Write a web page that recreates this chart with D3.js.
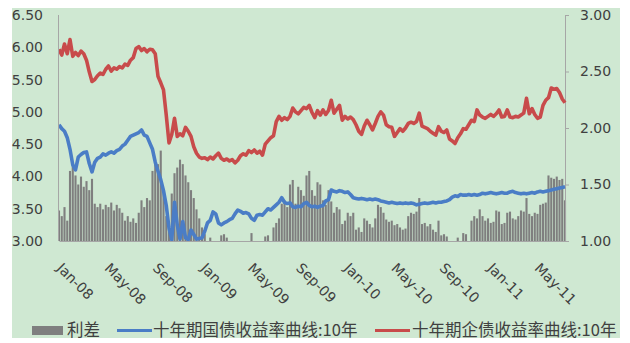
<!DOCTYPE html>
<html>
<head>
<meta charset="utf-8">
<script src="https://cdn.jsdelivr.net/npm/d3@7"></script>
<style>
  html, body { margin: 0; padding: 0; background: #ffffff; }
  svg { display: block; }
</style>
</head>
<body>
<svg id="chart" width="630" height="343"></svg>
<script>
// Weekly observations starting 2008-01-02
const firstWeek = "2008-01-02";

// 十年期企债收益率 (left axis, %)
const corpYield = [
  5.97,5.88,6.05,5.90,6.12,5.86,5.92,5.87,5.94,5.90,5.80,5.62,5.47,5.50,5.56,5.60,5.58,5.66,5.71,5.63,
  5.68,5.66,5.70,5.68,5.74,5.72,5.80,5.84,5.98,6.01,5.95,5.98,5.93,5.97,5.96,5.90,5.55,5.45,5.34,4.95,
  4.52,4.65,4.90,4.62,4.66,4.63,4.76,4.70,4.62,4.46,4.36,4.30,4.28,4.29,4.26,4.30,4.27,4.32,4.36,4.28,
  4.25,4.27,4.24,4.26,4.21,4.25,4.32,4.35,4.33,4.40,4.37,4.41,4.36,4.39,4.33,4.50,4.55,4.60,4.63,4.85,
  4.93,4.87,4.91,4.88,4.93,5.06,5.00,4.97,5.02,5.07,5.05,5.10,4.99,4.91,5.02,4.95,5.03,4.96,5.02,5.18,
  4.98,5.04,5.10,4.87,4.93,4.89,4.92,4.88,4.80,4.70,4.65,4.78,4.87,4.80,4.72,4.82,4.93,5.00,4.95,4.80,
  4.77,4.76,4.62,4.68,4.74,4.70,4.75,4.82,4.84,4.82,4.85,4.98,4.78,4.76,4.74,4.70,4.67,4.64,4.77,4.70,
  4.68,4.72,4.58,4.55,4.51,4.60,4.66,4.74,4.73,4.80,4.87,4.85,5.03,4.95,4.92,4.90,4.93,4.96,4.93,4.97,
  5.03,4.92,4.93,5.03,4.92,4.91,4.93,4.92,4.95,4.98,5.21,4.97,5.05,4.96,4.90,4.92,5.10,5.18,5.22,5.37,
  5.35,5.36,5.30,5.20,5.14
];

// 十年期国债收益率 (left axis, %)
const govYield = [
  4.80,4.74,4.70,4.60,4.42,4.18,4.10,4.30,4.34,4.37,4.38,4.20,4.07,4.22,4.28,4.30,4.35,4.33,4.36,4.38,
  4.36,4.40,4.42,4.47,4.50,4.56,4.62,4.64,4.66,4.68,4.72,4.64,4.62,4.52,4.42,4.22,4.08,3.95,3.78,3.55,
  3.20,3.02,3.60,3.25,3.03,3.30,3.05,3.02,3.17,3.10,3.03,3.04,3.05,3.15,3.28,3.32,3.45,3.42,3.28,3.25,
  3.28,3.30,3.33,3.35,3.42,3.48,3.46,3.43,3.44,3.42,3.35,3.32,3.40,3.41,3.40,3.45,3.50,3.48,3.52,3.56,
  3.60,3.67,3.60,3.58,3.59,3.53,3.52,3.54,3.53,3.58,3.60,3.55,3.53,3.54,3.52,3.54,3.55,3.62,3.64,3.79,
  3.77,3.76,3.78,3.77,3.75,3.76,3.72,3.67,3.66,3.65,3.66,3.65,3.64,3.65,3.64,3.65,3.64,3.62,3.61,3.60,
  3.59,3.60,3.59,3.58,3.59,3.58,3.59,3.58,3.59,3.58,3.56,3.57,3.58,3.59,3.58,3.59,3.60,3.59,3.60,3.60,
  3.61,3.62,3.64,3.68,3.70,3.69,3.72,3.71,3.71,3.72,3.71,3.72,3.71,3.72,3.74,3.73,3.74,3.75,3.74,3.73,
  3.74,3.75,3.74,3.74,3.76,3.77,3.75,3.74,3.73,3.74,3.73,3.74,3.75,3.74,3.76,3.77,3.76,3.77,3.78,3.79,
  3.80,3.81,3.82,3.83,3.84
];

// 利差 (right axis, %)
const spread = [
  1.27,1.22,1.30,1.18,1.62,1.66,1.58,1.50,1.57,1.48,1.53,1.45,1.55,1.33,1.30,1.33,1.28,1.32,1.30,1.34,
  1.27,1.32,1.29,1.25,1.18,1.22,1.17,1.20,1.16,1.25,1.36,1.30,1.38,1.36,1.62,1.70,1.68,1.80,1.45,1.22,
  1.15,1.42,1.60,1.65,1.72,1.68,1.58,1.52,1.45,1.38,1.28,1.20,1.12,1.06,1.00,1.03,1.00,1.00,1.00,1.05,
  1.06,1.03,1.00,1.00,1.00,1.00,1.00,1.00,1.00,1.00,1.07,1.00,1.00,1.00,1.00,1.04,1.05,1.00,1.12,1.16,
  1.20,1.33,1.36,1.30,1.50,1.54,1.33,1.48,1.45,1.40,1.58,1.62,1.45,1.40,1.52,1.50,1.36,1.32,1.45,1.35,
  1.25,1.30,1.28,1.15,1.18,1.25,1.22,1.25,1.10,1.12,1.08,1.20,1.18,1.15,1.12,1.20,1.32,1.30,1.25,1.19,
  1.17,1.18,1.14,1.15,1.12,1.10,1.11,1.22,1.25,1.24,1.26,1.38,1.15,1.16,1.13,1.15,1.10,1.08,1.18,1.05,
  1.06,1.04,1.00,1.00,1.00,1.03,1.00,1.07,1.06,1.00,1.18,1.22,1.20,1.28,1.22,1.18,1.20,1.16,1.17,1.27,
  1.26,1.15,1.16,1.25,1.26,1.20,1.19,1.22,1.27,1.26,1.38,1.24,1.22,1.25,1.24,1.32,1.33,1.34,1.58,1.56,
  1.55,1.57,1.54,1.55,1.36
];

const leftTicks = [3.0, 3.5, 4.0, 4.5, 5.0, 5.5, 6.0, 6.5];
const rightTicks = [1.0, 1.5, 2.0, 2.5, 3.0];
const monthLabels = ["Jan-08","May-08","Sep-08","Jan-09","May-09","Sep-09","Jan-10","May-10","Sep-10","Jan-11","May-11"];
const legendNames = ["利差", "十年期国债收益率曲线:10年", "十年期企债收益率曲线:10年"];

const colors = { spread: "#7f7f7f", gov: "#4a7dc6", corp: "#c84b4b", text: "#404040", axis: "#a6a6a6", bg: "#cfe8d2" };

const start = d3.timeParse("%Y-%m-%d")(firstWeek);
const dates = spread.map((_, i) => d3.timeDay.offset(start, 7 * i));
const tickDates = monthLabels.map(d3.timeParse("%b-%y"));

const svg = d3.select("#chart");
const W = 630, H = 343;
const panel = { x0: 12, y0: 8, x1: 620, y1: 338 };
const plot = { left: 59, right: 565, top: 15, bottom: 241 };

svg.append("rect").attr("width", W).attr("height", H).attr("fill", "#ffffff");
svg.append("rect")
  .attr("x", panel.x0).attr("y", panel.y0)
  .attr("width", panel.x1 - panel.x0).attr("height", panel.y1 - panel.y0)
  .attr("fill", colors.bg);

const defs = svg.append("defs");
defs.append("clipPath").attr("id", "plotClip").append("rect")
  .attr("x", plot.left).attr("y", plot.top - 4)
  .attr("width", plot.right - plot.left + 2).attr("height", plot.bottom - plot.top + 4);

const x = d3.scaleTime().domain(d3.extent(dates)).range([plot.left, plot.right]);
const yL = d3.scaleLinear().domain([3, 6.5]).range([plot.bottom, plot.top]);
const yR = d3.scaleLinear().domain([1, 3]).range([plot.bottom, plot.top]);

const font = "'DejaVu Sans', Verdana, sans-serif";

// spread columns
const barW = 2.1;
svg.append("g").attr("clip-path", "url(#plotClip)")
  .selectAll("rect").data(spread).join("rect")
  .attr("x", (d, i) => x(dates[i]) - barW / 2)
  .attr("y", d => yR(d))
  .attr("width", barW)
  .attr("height", d => yR(1) - yR(d))
  .attr("fill", colors.spread);

// axes
const axisL = svg.append("g").attr("transform", `translate(${plot.left},0)`)
  .call(d3.axisLeft(yL).tickValues(leftTicks).tickFormat(d3.format(".2f")).tickSize(0).tickPadding(16));
const axisR = svg.append("g").attr("transform", `translate(${plot.right},0)`)
  .call(d3.axisRight(yR).tickValues(rightTicks).tickFormat(d3.format(".2f")).tickSize(4).tickPadding(11));
const axisB = svg.append("g").attr("transform", `translate(0,${plot.bottom})`)
  .call(d3.axisBottom(x).tickValues(tickDates).tickFormat(d3.timeFormat("%b-%y")).tickSize(0));

[axisL, axisR, axisB].forEach(g => {
  g.select(".domain").attr("stroke", colors.axis).attr("stroke-width", 1);
  g.selectAll(".tick line").attr("stroke", colors.axis);
  g.selectAll("text").attr("fill", colors.text).style("font-family", font).style("font-size", "14px");
});
axisR.select(".domain").attr("d", `M0.5,${plot.top}V${plot.bottom}`);
axisL.select(".domain").attr("d", `M-0.5,${plot.top}V${plot.bottom}`);
axisB.selectAll("text")
  .attr("x", 0).attr("y", 0).attr("dy", 0)
  .attr("text-anchor", "start")
  .attr("transform", "translate(-3,28) rotate(45)");

// yield lines
const lineL = d3.line().x((d, i) => x(dates[i])).y(d => yL(d));
const lines = svg.append("g").attr("clip-path", "url(#plotClip)");
lines.append("path").datum(govYield).attr("d", lineL)
  .attr("fill", "none").attr("stroke", colors.gov).attr("stroke-width", 3.6).attr("stroke-linejoin", "round");
lines.append("path").datum(corpYield).attr("d", lineL)
  .attr("fill", "none").attr("stroke", colors.corp).attr("stroke-width", 3.6).attr("stroke-linejoin", "round");

// legend along the bottom of the panel
const legend = svg.append("g");
const lgFont = "'Noto Sans CJK SC', 'Noto Sans', sans-serif";
const lgBase = 336;
const lgMid = 330.5;
legend.append("rect").attr("x", 32).attr("y", lgMid - 4.5).attr("width", 31).attr("height", 9).attr("fill", colors.spread);
legend.append("text").attr("x", 67).attr("y", lgBase).text(legendNames[0]);
legend.append("line").attr("x1", 117).attr("x2", 152).attr("y1", lgMid).attr("y2", lgMid)
  .attr("stroke", colors.gov).attr("stroke-width", 3);
legend.append("text").attr("x", 153).attr("y", lgBase).text(legendNames[1]);
legend.append("line").attr("x1", 375).attr("x2", 410).attr("y1", lgMid).attr("y2", lgMid)
  .attr("stroke", colors.corp).attr("stroke-width", 3);
legend.append("text").attr("x", 412).attr("y", lgBase).text(legendNames[2]);
legend.selectAll("text").attr("fill", colors.text).style("font-family", lgFont).style("font-size", "16.5px");
</script>
</body>
</html>
